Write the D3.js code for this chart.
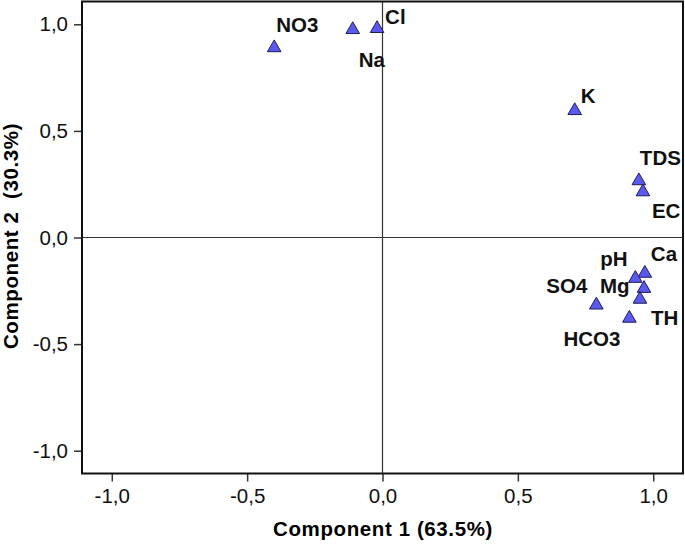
<!DOCTYPE html>
<html>
<head>
<meta charset="utf-8">
<script src="https://cdn.jsdelivr.net/npm/d3@7"></script>
<style>
  body { margin: 0; background: #fff; }
  svg text { font-family: Arial, "Liberation Sans", sans-serif; }
</style>
</head>
<body>
<svg id="chart" width="685" height="545"></svg>
<script>
// loadings (component 1, component 2)
var variables = ["NO3", "Na", "Cl", "K", "TDS", "EC", "Ca", "pH", "Mg", "TH", "SO4", "HCO3"];
var comp1 = [-0.40, -0.11, -0.02, 0.71, 0.947, 0.962, 0.969, 0.934, 0.966, 0.951, 0.79, 0.912];
var comp2 = [0.89, 0.975, 0.98, 0.595, 0.266, 0.214, -0.168, -0.192, -0.239, -0.29, -0.317, -0.379];
var tickValues = [-1, -0.5, 0, 0.5, 1];

// where each label sits relative to its marker (px)
var labelOffset = {
  NO3: [2, -16], Na: [6, 37], Cl: [8, -5], K: [6, -8],
  TDS: [1, -16], EC: [9, 26], Ca: [6, -12], pH: [-35, -12],
  Mg: [-44, 5], TH: [11, 26], SO4: [-50, -12], HCO3: [-66, 28]
};

var svg = d3.select("#chart");

var x = d3.scaleLinear().domain([-1.11, 1.11]).range([82, 683]);
var y = d3.scaleLinear().domain([-1.107, 1.107]).range([473.5, 1.5]);

var loc = d3.formatLocale({decimal: ",", thousands: ".", grouping: [3], currency: ["", ""], minus: "-"});
var fmt = loc.format(".1f");

// zero lines
svg.append("line")
  .attr("x1", x(0)).attr("x2", x(0))
  .attr("y1", y.range()[0]).attr("y2", y.range()[1])
  .attr("stroke", "#333").attr("stroke-width", 1.2);
svg.append("line")
  .attr("x1", x.range()[0]).attr("x2", x.range()[1])
  .attr("y1", y(0)).attr("y2", y(0))
  .attr("stroke", "#333").attr("stroke-width", 1.2);

// axes
var xAxis = svg.append("g")
  .attr("transform", "translate(0," + y.range()[0] + ")")
  .call(d3.axisBottom(x).tickValues(tickValues).tickFormat(fmt).tickSize(8).tickPadding(7));
var yAxis = svg.append("g")
  .attr("transform", "translate(" + x.range()[0] + ",0)")
  .call(d3.axisLeft(y).tickValues(tickValues).tickFormat(fmt).tickSize(8).tickPadding(6));

[xAxis, yAxis].forEach(function(a) {
  a.select(".domain").remove();
  a.selectAll("line").attr("stroke", "#333").attr("stroke-width", 1.5);
  a.selectAll("text").attr("fill", "#111").style("font-size", "20.5px").attr("font-family", null);
});

// frame
svg.append("rect")
  .attr("x", x.range()[0]).attr("y", y.range()[1])
  .attr("width", x.range()[1] - x.range()[0])
  .attr("height", y.range()[0] - y.range()[1])
  .attr("fill", "none").attr("stroke", "#111").attr("stroke-width", 2);

// markers
var tri = d3.symbol().type(d3.symbolTriangle).size(80);
svg.append("g").selectAll("path")
  .data(variables)
  .enter().append("path")
  .attr("d", tri)
  .attr("transform", function(d, i) { return "translate(" + x(comp1[i]) + "," + y(comp2[i]) + ")"; })
  .attr("fill", "#5a5af0")
  .attr("stroke", "#1e1e55")
  .attr("stroke-width", 1);

// labels
svg.append("g").selectAll("text")
  .data(variables)
  .enter().append("text")
  .attr("x", function(d, i) { return x(comp1[i]) + labelOffset[d][0]; })
  .attr("y", function(d, i) { return y(comp2[i]) + labelOffset[d][1]; })
  .style("font-size", "20.5px")
  .style("font-weight", "bold")
  .attr("fill", "#111")
  .text(function(d) { return d; });

// axis titles
svg.append("text")
  .attr("x", 383).attr("y", 536)
  .attr("text-anchor", "middle")
  .style("font-size", "20.5px").style("font-weight", "bold")
  .style("letter-spacing", "0.6px")
  .text("Component 1 (63.5%)");

svg.append("text")
  .attr("transform", "translate(18,236) rotate(-90)")
  .attr("text-anchor", "middle")
  .style("font-size", "20.5px").style("font-weight", "bold")
  .style("letter-spacing", "0.6px")
  .style("white-space", "pre")
  .text("Component 2  (30.3%)");
</script>
</body>
</html>
